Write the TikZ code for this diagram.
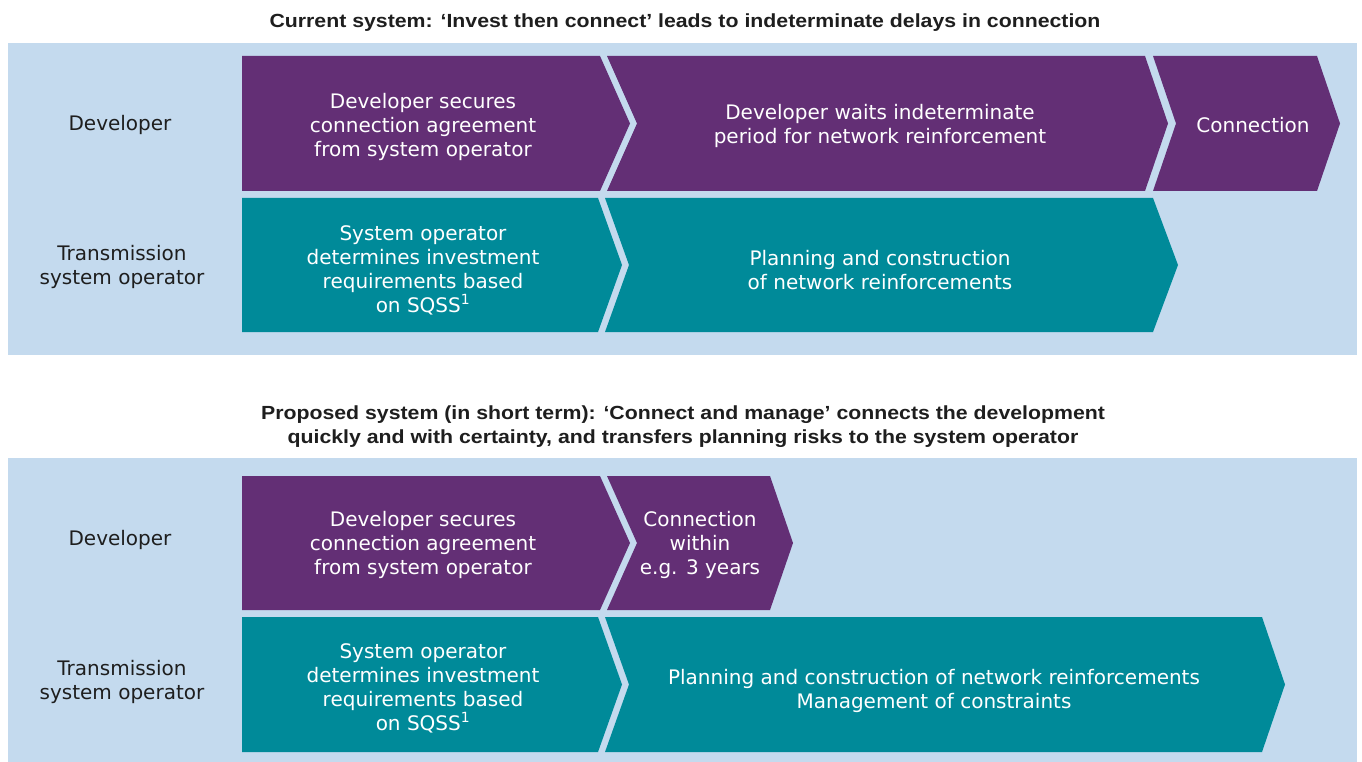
\documentclass[tikz,border=0pt]{standalone}
\usepackage{fontspec}
\setmainfont{DejaVu Sans}
\newfontfamily\headfont[FakeStretch=1.12]{Liberation Sans}
\definecolor{panelblue}{HTML}{C4DAEE}
\definecolor{devpurple}{HTML}{632F75}
\definecolor{tsoteal}{HTML}{008A99}
\definecolor{inkgray}{HTML}{1E1E1E}
\tikzset{
  panel/.style={fill=panelblue},
  devshape/.style={fill=devpurple},
  tsoshape/.style={fill=tsoteal},
  boxtext/.style={text=white, align=center, inner sep=0pt, font=\fontsize{20}{24}\selectfont},
  rowlabel/.style={text=inkgray, align=center, inner sep=0pt, font=\fontsize{20}{24}\selectfont},
  heading/.style={text=inkgray, align=center, inner sep=0pt, font=\headfont\bfseries\fontsize{19}{24}\selectfont}
}
\begin{document}
\begin{tikzpicture}[x=1pt, y=-1pt]
    \useasboundingbox[fill=white] (0,0) rectangle (1362,762);
    % panels
    \fill[panel] (8,43) rectangle (1357,355);
    \fill[panel] (8,458) rectangle (1357,762);
    % current system
    \fill[devshape] (242,56) -- (600,56) -- (630,123.5) -- (600,191) -- (242,191) -- cycle;
    \fill[devshape] (607,56) -- (1145,56) -- (1168,123.5) -- (1145,191) -- (607,191) -- (637,123.5) -- cycle;
    \fill[devshape] (1153,56) -- (1317,56) -- (1340,123.5) -- (1317,191) -- (1153,191) -- (1176,123.5) -- cycle;
    \fill[tsoshape] (242,198) -- (598,198) -- (622,265) -- (598,332) -- (242,332) -- cycle;
    \fill[tsoshape] (605,198) -- (1153,198) -- (1178,265) -- (1153,332) -- (605,332) -- (629,265) -- cycle;
    % proposed system
    \fill[devshape] (242,476) -- (600,476) -- (630,543) -- (600,610) -- (242,610) -- cycle;
    \fill[devshape] (607,476) -- (770,476) -- (793,543) -- (770,610) -- (607,610) -- (637,543) -- cycle;
    \fill[tsoshape] (242,617) -- (598,617) -- (622,684.5) -- (598,752) -- (242,752) -- cycle;
    \fill[tsoshape] (605,617) -- (1262,617) -- (1285,684.5) -- (1262,752) -- (605,752) -- (629,684.5) -- cycle;
    % headings
    \node[heading] (currenthead) at (685,23) {Current system: ‘Invest then connect’ leads to indeterminate delays in connection};
    \node[heading] (proposedhead) at (683,427) {Proposed system (in short term): ‘Connect and manage’ connects the development\\quickly and with certainty, and transfers planning risks to the system operator};
    % row labels
    \node[rowlabel] (devtop) at (120,125) {Developer};
    \node[rowlabel] (tsotop) at (122,267) {Transmission\\system operator};
    \node[rowlabel] (devbot) at (120,540) {Developer};
    \node[rowlabel] (tsobot) at (122,682) {Transmission\\system operator};
    % box texts, current
    \node[boxtext] (securetop) at (423,127) {Developer secures\\connection agreement\\from system operator};
    \node[boxtext] (waittop) at (880,126) {Developer waits indeterminate\\period for network reinforcement};
    \node[boxtext] (conntop) at (1253,125) {Connection};
    \node[boxtext] (sqsstop) at (423,270) {System operator\\determines investment\\requirements based\\on SQSS\textsuperscript{1}};
    \node[boxtext] (plantop) at (880,270) {Planning and construction\\of network reinforcements};
    % box texts, proposed
    \node[boxtext] (securebot) at (423,545) {Developer secures\\connection agreement\\from system operator};
    \node[boxtext] (connbot) at (700,545) {Connection\\within\\e.g. 3 years};
    \node[boxtext] (sqssbot) at (423,688) {System operator\\determines investment\\requirements based\\on SQSS\textsuperscript{1}};
    \node[boxtext] (planbot) at (934,691) {Planning and construction of network reinforcements\\Management of constraints};
\end{tikzpicture}
\end{document}
